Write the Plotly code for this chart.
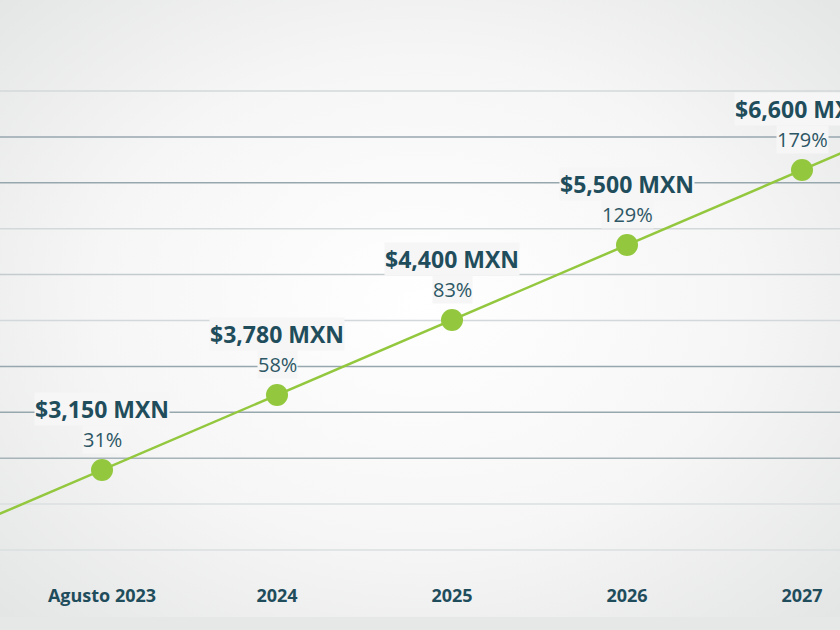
import base64

import plotly.graph_objects as go

# datos de la gráfica
periodos = ["Agusto 2023", "2024", "2025", "2026", "2027"]
precios = [3150, 3780, 4400, 5500, 6600]
incrementos = [31, 58, 83, 129, 179]
nivel = [0, 1, 2, 3, 4]  # escalón de cada punto en la línea

VERDE = "#93c83e"
AZUL = "#1f4d5c"
AZUL_PCT = "#2d5765"
FONDO = "#f6f6f6"

x = list(range(len(periodos)))

# la línea continúa más allá del primer y último punto
x_izq, x_der = -0.75, 4.45
pend_izq = (nivel[1] - nivel[0]) / (x[1] - x[0])
pend_der = (nivel[-1] - nivel[-2]) / (x[-1] - x[-2])
linea_x = [x_izq] + x + [x_der]
linea_y = (
    [nivel[0] + pend_izq * (x_izq - x[0])]
    + nivel
    + [nivel[-1] + pend_der * (x_der - x[-1])]
)

fig = go.Figure()

fig.add_trace(
    go.Scatter(
        x=linea_x,
        y=linea_y,
        mode="lines",
        line={"color": VERDE, "width": 2.5},
        hoverinfo="skip",
    )
)
fig.add_trace(
    go.Scatter(
        x=x,
        y=nivel,
        mode="markers",
        marker={"color": VERDE, "size": 22},
        customdata=precios,
        hovertemplate="%{customdata:$,} MXN<extra></extra>",
    )
)

# etiquetas sobre cada punto
for xi, yi, p, pct in zip(x, nivel, precios, incrementos):
    fig.add_annotation(
        x=xi, y=yi, text=f"<b>${p:,} MXN</b>", showarrow=False,
        yshift=61, font={"family": "Open Sans", "size": 23, "color": AZUL},
        bgcolor=FONDO, borderpad=0,
    )
    fig.add_annotation(
        x=xi, y=yi, text=f"{pct}%", showarrow=False,
        yshift=31, font={"family": "Open Sans", "size": 20, "color": AZUL_PCT},
        bgcolor=FONDO, borderpad=0,
    )

# líneas horizontales de fondo
colores_linea = ["#d3d8da", "#97a7ae", "#97a7ae", "#d3d8da", "#c3cbce", "#d3d8da",
                 "#97a7ae", "#97a7ae", "#a6b3b9", "#dadfe0", "#dadfe0"]
for i, c in enumerate(colores_linea):
    yy = (470 - (91 + 45.9 * i)) / 75
    fig.add_shape(
        type="line", xref="paper", x0=0, x1=1, yref="y", y0=yy, y1=yy,
        line={"color": c, "width": 1.5}, layer="below",
    )

# fondo con degradado radial
svg = (
    '<svg xmlns="http://www.w3.org/2000/svg" width="840" height="630" '
    'viewBox="0 0 840 630" preserveAspectRatio="none">'
    '<defs><radialGradient id="g" cx="50%" cy="48%" r="70%">'
    '<stop offset="0" stop-color="#ffffff"/>'
    '<stop offset="0.55" stop-color="#f6f6f6"/>'
    '<stop offset="1" stop-color="#e4e5e5"/>'
    '</radialGradient></defs>'
    '<rect width="840" height="630" fill="url(#g)"/>'
    '<rect y="617" width="840" height="13" fill="#e6e7e7"/>'
    '</svg>'
)
fuente_svg = "data:image/svg+xml;base64," + base64.b64encode(svg.encode()).decode()
fig.add_layout_image(
    source=fuente_svg, xref="paper", yref="paper", x=0, y=1,
    sizex=1, sizey=630 / 575, xanchor="left", yanchor="top",
    sizing="stretch", layer="below",
)

fig.update_layout(
    width=840,
    height=630,
    margin={"l": 0, "r": 0, "t": 0, "b": 55},
    paper_bgcolor="#ececec",
    plot_bgcolor="rgba(0,0,0,0)",
    showlegend=False,
    xaxis={
        "range": [-102 / 175, 738 / 175],
        "tickvals": x,
        "ticktext": [f"<b>{t}</b>" for t in periodos],
        "tickfont": {"family": "Open Sans", "size": 18, "color": AZUL},
        "showgrid": False,
        "zeroline": False,
        "showline": False,
        "ticks": "",
        "ticklabelstandoff": 8,
    },
    yaxis={
        "range": [-105 / 75, 470 / 75],
        "showgrid": False,
        "zeroline": False,
        "showticklabels": False,
    },
)

# sin margen del navegador para que la figura ocupe toda la ventana
fig.write_html(
    "out.html",
    config={"displayModeBar": False},
    post_script="document.body.style.margin='0';",
)
